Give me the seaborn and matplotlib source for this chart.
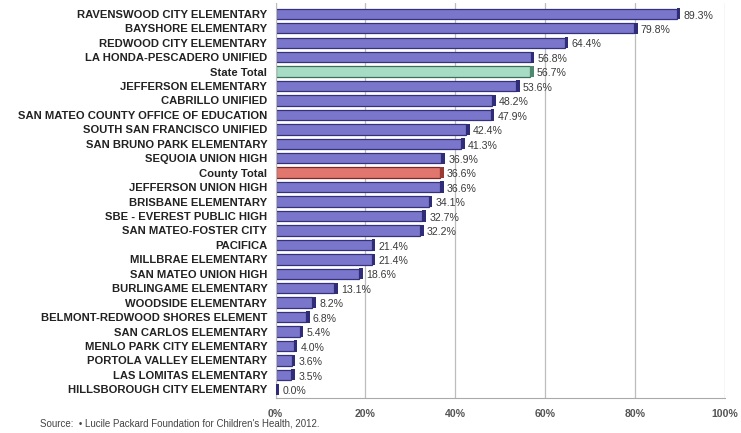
import matplotlib
matplotlib.use("Agg")
import matplotlib.pyplot as plt
import seaborn as sns
import pandas as pd

# Daten
districts = [
    "RAVENSWOOD CITY ELEMENTARY", "BAYSHORE ELEMENTARY", "REDWOOD CITY ELEMENTARY",
    "LA HONDA-PESCADERO UNIFIED", "State Total", "JEFFERSON ELEMENTARY",
    "CABRILLO UNIFIED", "SAN MATEO COUNTY OFFICE OF EDUCATION",
    "SOUTH SAN FRANCISCO UNIFIED", "SAN BRUNO PARK ELEMENTARY", "SEQUOIA UNION HIGH",
    "County Total", "JEFFERSON UNION HIGH", "BRISBANE ELEMENTARY",
    "SBE - EVEREST PUBLIC HIGH", "SAN MATEO-FOSTER CITY", "PACIFICA",
    "MILLBRAE ELEMENTARY", "SAN MATEO UNION HIGH", "BURLINGAME ELEMENTARY",
    "WOODSIDE ELEMENTARY", "BELMONT-REDWOOD SHORES ELEMENT", "SAN CARLOS ELEMENTARY",
    "MENLO PARK CITY ELEMENTARY", "PORTOLA VALLEY ELEMENTARY", "LAS LOMITAS ELEMENTARY",
    "HILLSBOROUGH CITY ELEMENTARY",
]
percent = [89.3, 79.8, 64.4, 56.8, 56.7, 53.6, 48.2, 47.9, 42.4, 41.3, 36.9, 36.6,
           36.6, 34.1, 32.7, 32.2, 21.4, 21.4, 18.6, 13.1, 8.2, 6.8, 5.4, 4.0, 3.6,
           3.5, 0.0]
x_ticks = [0, 20, 40, 60, 80, 100]
source_text = "Source:  \u2022 Lucile Packard Foundation for Children's Health, 2012."

df = pd.DataFrame({"district": districts, "percent": percent})

face = {"State Total": "#a6dcc6", "County Total": "#e0766e"}
edge = {"State Total": "#3f6e58", "County Total": "#7a2a26"}
side = {"State Total": "#4f8a70", "County Total": "#9a3a34"}
palette = {d: face.get(d, "#7a76cc") for d in districts}

sns.set_style("white")
plt.rcParams["font.family"] = ["Liberation Sans", "DejaVu Sans"]

fig = plt.figure(figsize=(7.41, 4.33), dpi=100)
ax = fig.add_axes([0.372, 0.081, 0.606, 0.912])

sns.barplot(data=df, x="percent", y="district", hue="district", palette=palette,
            legend=False, orient="h", width=0.72, saturation=1, ax=ax)

for bar, d in zip(ax.patches, districts):
    bar.set_edgecolor(edge.get(d, "#35327a"))
    bar.set_linewidth(0.9)

# dunkle Stirnseite (3D-Effekt)
ax.barh(range(len(districts)), [0.8] * len(districts), left=percent, height=0.78,
        color=[side.get(d, "#2f2c78") for d in districts], linewidth=0, zorder=3)

for i, v in enumerate(percent):
    ax.text(v + 1.5, i + 0.12, f"{v:.1f}%", va="center", ha="left",
            fontsize=7.6, color="#3a3a3a")

ax.set_xlim(0, 100)
ax.set_ylim(len(districts) - 0.4, -0.75)
ax.set_xticks(x_ticks)
ax.set_xticklabels([f"{t}%" for t in x_ticks], fontsize=7.6, fontweight="bold",
                   color="#555555")
ax.tick_params(axis="x", length=0, pad=8)
ax.tick_params(axis="y", length=0, pad=6)
for lab in ax.get_yticklabels():
    lab.set_fontsize(8.1)
    lab.set_fontweight("bold")
    lab.set_color("#222222")
ax.set_xlabel("")
ax.set_ylabel("")
ax.xaxis.grid(True, color="#bdbdbd", linewidth=0.9)
ax.set_axisbelow(True)
for s in ["top", "right"]:
    ax.spines[s].set_visible(False)
ax.spines["left"].set_color("#bdbdbd")
ax.spines["bottom"].set_color("#aaaaaa")

fig.text(40 / 741, 1 - 424 / 433, source_text, fontsize=7, color="#444444",
         va="center", ha="left")

fig.savefig("out.png", dpi=100)
